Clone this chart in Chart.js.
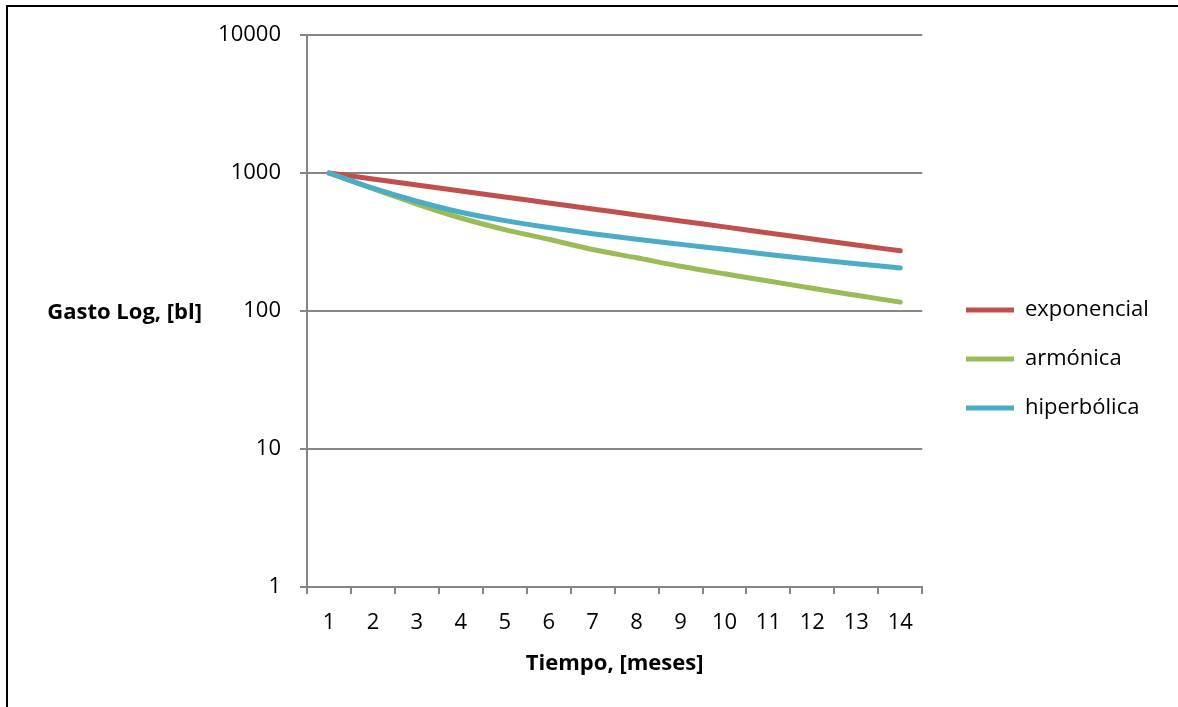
<!DOCTYPE html>
<html>
<head>
<meta charset="utf-8">
<script src="https://cdn.jsdelivr.net/npm/chart.js@4.4.0/dist/chart.umd.min.js"></script>
<style>
  body { margin: 0; background: #fff; }
  #marco { position: absolute; left: 6px; top: 5px; width: 1200px; height: 720px;
           border-left: 2px solid #000; border-top: 2px solid #000; }
  canvas { position: absolute; left: 0; top: 0; }
</style>
</head>
<body>
<div id="marco"></div>
<canvas id="declinacion" width="1178" height="707"></canvas>
<script>
// Curvas de declinación (gasto vs tiempo)
const meses = ['1', '2', '3', '4', '5', '6', '7', '8', '9', '10', '11', '12', '13', '14'];
const exponencial = [1000, 905, 819, 741, 670, 607, 549, 497, 449, 407, 368, 333, 301, 273];
const armonica = [1000, 769, 596, 472, 389, 331, 279, 243, 211, 186, 165, 146, 130, 116];
const hiperbolica = [1000, 776, 624, 519, 452, 403, 363, 331, 304, 280, 257, 237, 220, 205];
const ticksY = [1, 10, 100, 1000, 10000];

const gris = '#868686';
const fuente = '"Open Sans", sans-serif';

// titulo del eje Y horizontal (Chart.js solo lo dibuja girado)
const tituloY = {
    id: 'tituloY',
    afterDraw(chart) {
        const a = chart.chartArea;
        const c = chart.ctx;
        c.save();
        c.font = 'bold 22px ' + fuente;
        c.fillStyle = '#000';
        c.textAlign = 'right';
        c.textBaseline = 'middle';
        c.fillText('Gasto Log, [bl]', a.left - 105, (a.top + a.bottom) / 2 + 2);
        c.restore();
    }
};

// mueve un poco la leyenda
const ajusteLeyenda = {
    id: 'ajusteLeyenda',
    afterLayout(chart) {
        const l = chart.legend;
        const dx = 966 - (l.left + l.options.labels.padding);
        l.left += dx; l.right += dx;
        l.top -= 12; l.bottom -= 12;
    }
};

const ctx = document.getElementById('declinacion').getContext('2d');

new Chart(ctx, {
    type: 'line',
    data: {
        labels: meses,
        datasets: [
            { label: 'exponencial', data: exponencial, borderColor: '#C0504D', backgroundColor: '#C0504D', borderWidth: 5, order: 2 },
            { label: 'armónica', data: armonica, borderColor: '#9BBB59', backgroundColor: '#9BBB59', borderWidth: 5, order: 1 },
            { label: 'hiperbólica', data: hiperbolica, borderColor: '#4BACC6', backgroundColor: '#4BACC6', borderWidth: 5, order: 0 }
        ]
    },
    options: {
        responsive: false,
        animation: false,
        layout: { padding: { top: 35, left: 0, right: 36, bottom: 0 } },
        elements: {
            line: { borderWidth: 5, borderCapStyle: 'round', borderJoinStyle: 'round', cubicInterpolationMode: 'monotone' },
            point: { radius: 0 }
        },
        scales: {
            x: {
                offset: true,
                grid: { offset: true, drawOnChartArea: false, drawTicks: true, tickLength: 7, color: gris, lineWidth: 2 },
                border: { color: gris, width: 2 },
                ticks: { color: '#000', font: { family: fuente, size: 22 }, padding: 16, maxRotation: 0 },
                title: { display: true, text: 'Tiempo, [meses]', color: '#000',
                         font: { family: fuente, size: 22, weight: 'bold' }, padding: { top: 0, bottom: 30 } },
                afterFit(scale) { scale.height = 120; }
            },
            y: {
                type: 'logarithmic',
                min: 1,
                max: 10000,
                afterBuildTicks(scale) { scale.ticks = ticksY.map(v => ({ value: v })); },
                grid: { color: gris, lineWidth: 2, tickLength: 7 },
                border: { color: gris, width: 2 },
                ticks: { color: '#000', font: { family: fuente, size: 22 }, padding: 19,
                         callback: v => String(v) },
                afterFit(scale) { scale.width = 307; }
            }
        },
        plugins: {
            legend: {
                position: 'right',
                labels: {
                    color: '#000',
                    font: { family: fuente, size: 22 },
                    padding: 27,
                    usePointStyle: true,
                    pointStyle: 'line',
                    pointStyleWidth: 48,
                    sort: (a, b) => a.datasetIndex - b.datasetIndex
                }
            },
            tooltip: { enabled: false }
        }
    },
    plugins: [tituloY, ajusteLeyenda]
});
</script>
</body>
</html>
